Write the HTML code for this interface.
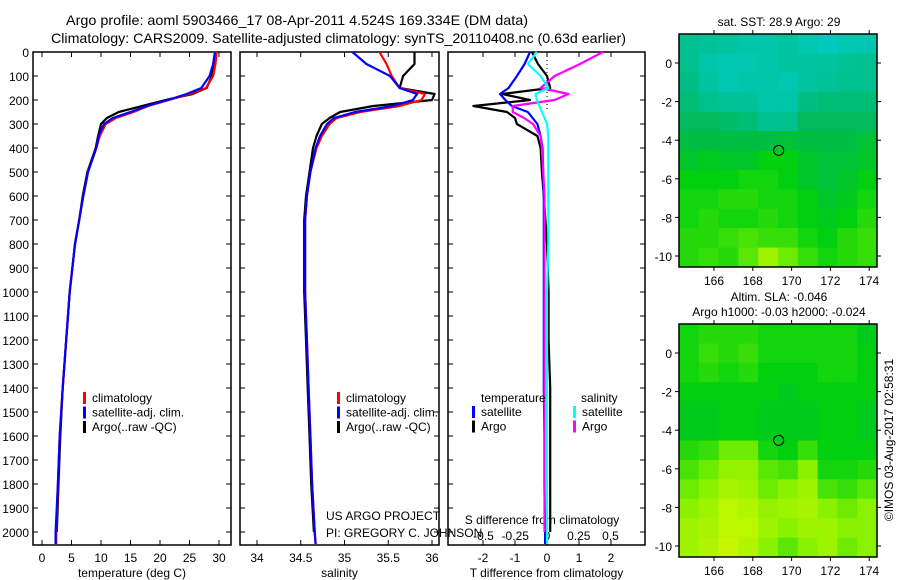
<!DOCTYPE html>
<html><head><meta charset="utf-8"><style>
body{margin:0;background:#fff}
svg{display:block;font-family:"Liberation Sans",sans-serif}
</style></head><body>
<svg id="s" width="900" height="580" viewBox="0 0 900 580">
<text x="66" y="25" font-size="14" textLength="462" lengthAdjust="spacingAndGlyphs">Argo profile: aoml 5903466_17 08-Apr-2011 4.524S 169.334E (DM data)</text>
<text x="51" y="43" font-size="14" textLength="575" lengthAdjust="spacingAndGlyphs">Climatology: CARS2009. Satellite-adjusted climatology: synTS_20110408.nc (0.63d earlier)</text>
<g id="g"></g>
</svg>
<script>
// ---- data ----
const depthT=[0,50,100,150,175,200,225,250,275,300,350,400,500,600,700,800,1000,1200,1400,1600,1800,2000,2050];
const tempClim=[29.6,29.4,29,27.8,25,21.5,18,15.5,12.5,10.8,9.8,9.2,7.8,7,6.3,5.6,4.7,4.1,3.5,3.0,2.7,2.4,2.4];
const tempSat=[29.3,29.0,28.4,27,24.5,21.3,17.8,15,12,10.5,9.6,9.2,7.8,7,6.3,5.6,4.7,4.1,3.5,3.0,2.7,2.3,2.3];
const depthA=[0,50,100,150,175,200,225,250,275,300,350,400,500,600,700,800,1000,1200,1400,1600,1800,2000];
const tempArgo=[29.4,29.2,28.8,27.9,25.5,21,17,13,11,10,9.5,9.1,7.7,6.9,6.3,5.6,4.7,4.1,3.5,3.1,2.8,2.5];
const salClim=[35.4,35.48,35.54,35.63,35.92,35.88,35.63,35.18,34.91,34.83,34.74,34.68,34.61,34.57,34.55,34.55,34.55,34.57,34.59,34.61,34.63,34.66,34.67];
const salSat=[35.09,35.25,35.52,35.63,35.83,35.78,35.55,35.12,34.88,34.8,34.72,34.67,34.61,34.57,34.55,34.55,34.55,34.57,34.59,34.61,34.63,34.66,34.67];
const salArgo=[35.8,35.8,35.67,35.63,36.03,36.0,35.33,34.95,34.83,34.74,34.68,34.64,34.6,34.56,34.54,34.54,34.54,34.56,34.58,34.6,34.62,34.65];
const dTsat=[-0.53,-0.7,-0.94,-1.2,-1.47,-1.3,-1.1,-0.6,-0.45,-0.3,-0.2,-0.14,-0.12,-0.1,-0.1,-0.1,-0.1,-0.1,-0.1,-0.08,-0.08,-0.06,-0.06];
const dTargo=[-0.47,-0.28,0,0.1,-1.4,-0.53,-2.3,-1.25,-1.0,-0.94,-0.3,-0.2,-0.16,-0.1,-0.05,0,0.05,0.05,0.1,0.1,0.1,0.1];
const dSsat=[-0.08,-0.15,-0.05,0.01,-0.09,-0.08,-0.06,-0.04,-0.02,0,0.01,0.01,0.01,0.01,0.01,0.01,0,0,0,0,0,0,0];
const dSargo=[0.44,0.26,0.06,-0.05,0.17,0.06,-0.27,-0.27,-0.18,-0.11,-0.05,-0.04,-0.03,-0.02,-0.02,-0.02,-0.02,-0.02,-0.02,-0.02,-0.02,-0.02];
const depthTicks=[0,100,200,300,400,500,600,700,800,900,1000,1100,1200,1300,1400,1500,1600,1700,1800,1900,2000];
const tempTicks=[0,5,10,15,20,25,30];
const salTicks=[34,34.5,35,35.5,36];
const salTickLabels=['34','34.5','35','35.5','36'];
const dTTicks=[-2,-1,0,1,2];
const dSTicks=[-0.5,-0.25,0,0.25,0.5];
const dSTickLabels=['-0.5','-0.25','0','0.25','0.5'];
const lonTicks=[166,168,170,172,174];
const latTicks=[0,-2,-4,-6,-8,-10];
// map cell values (rows: lat 1.5 -> -10.5 per 1deg; cols: lon 164.3 -> 174.5 per ~1deg)
const sstGrid=[
[0.45,0.44,0.43,0.42,0.42,0.43,0.41,0.39,0.41,0.41],
[0.45,0.42,0.41,0.41,0.42,0.43,0.43,0.43,0.44,0.45],
[0.46,0.43,0.41,0.42,0.42,0.41,0.43,0.44,0.45,0.45],
[0.47,0.45,0.44,0.44,0.42,0.42,0.46,0.47,0.47,0.47],
[0.49,0.49,0.48,0.47,0.45,0.45,0.49,0.49,0.49,0.49],
[0.51,0.51,0.51,0.51,0.51,0.52,0.51,0.51,0.51,0.52],
[0.53,0.54,0.53,0.53,0.55,0.55,0.53,0.52,0.52,0.53],
[0.55,0.55,0.55,0.56,0.56,0.55,0.53,0.52,0.53,0.55],
[0.56,0.56,0.57,0.57,0.56,0.56,0.55,0.53,0.54,0.56],
[0.56,0.57,0.56,0.56,0.57,0.56,0.55,0.54,0.55,0.57],
[0.57,0.57,0.58,0.59,0.58,0.58,0.56,0.55,0.57,0.58],
[0.57,0.58,0.57,0.60,0.65,0.61,0.58,0.56,0.57,0.58]];
const slaGrid=[
[0.56,0.57,0.57,0.57,0.56,0.56,0.56,0.56,0.56,0.54],
[0.56,0.58,0.57,0.58,0.56,0.56,0.56,0.56,0.56,0.55],
[0.56,0.57,0.56,0.57,0.55,0.55,0.55,0.56,0.56,0.55],
[0.55,0.55,0.55,0.55,0.55,0.54,0.55,0.55,0.55,0.55],
[0.54,0.54,0.55,0.55,0.54,0.54,0.54,0.55,0.55,0.54],
[0.54,0.54,0.55,0.55,0.54,0.54,0.54,0.55,0.55,0.54],
[0.57,0.58,0.61,0.61,0.56,0.55,0.58,0.55,0.55,0.55],
[0.59,0.61,0.64,0.64,0.60,0.59,0.63,0.56,0.56,0.57],
[0.61,0.63,0.66,0.65,0.61,0.63,0.65,0.59,0.58,0.60],
[0.63,0.65,0.68,0.67,0.64,0.65,0.66,0.63,0.61,0.63],
[0.65,0.66,0.68,0.68,0.65,0.63,0.65,0.65,0.63,0.63],
[0.65,0.67,0.69,0.67,0.63,0.60,0.63,0.65,0.61,0.63]];
const argoLon=169.334, argoLat=-4.524;

const NS='http://www.w3.org/2000/svg';
const G=document.getElementById('g');
function mk(tag,a,parent){const e=document.createElementNS(NS,tag);for(const k in a)e.setAttribute(k,a[k]);(parent||G).appendChild(e);return e;}
function txt(x,y,s,sz,anchor,parent){const e=mk('text',{x:x,y:y,'font-size':sz||12,'text-anchor':anchor||'start'},parent);e.textContent=s;return e;}

const top0=52, bot0=545;
const yD=d=>top0+d*0.24;
const xT=t=>42+t*5.9;
const xS=s=>257+(s-34)*87.5;
const xdT=v=>547+v*32;
const xdS=v=>547+v*127;

function panel(name,x0,x1,ticksX,fx,labels,xlabel){
  const g=mk('g',{});
  
  
  const r=mk('rect',{x:x0,y:top0,width:x1-x0,height:bot0-top0,fill:'none',stroke:'#000','stroke-width':1.5},g);
  
  
  depthTicks.forEach(d=>{mk('line',{x1:x0,x2:x0+5,y1:yD(d),y2:yD(d),stroke:'#000'},g);mk('line',{x1:x1-5,x2:x1,y1:yD(d),y2:yD(d),stroke:'#000'},g);});
  ticksX.forEach((t,i)=>{const x=fx(t);mk('line',{x1:x,x2:x,y1:top0,y2:top0+5,stroke:'#000'},g);mk('line',{x1:x,x2:x,y1:bot0-5,y2:bot0,stroke:'#000'},g);
    if(labels){const l=txt(x,562,labels[i],12,'middle',g);}});
  if(xlabel){const l=txt((x0+x1)/2,577,xlabel,12,'middle',g);}
  return g;
}
const p1=panel('temperature-panel',33,231,tempTicks,xT,tempTicks.map(String),'temperature (deg C)');
const p2=panel('salinity-panel',240,439,salTicks,xS,salTickLabels,'salinity');
const p3=panel('difference-panel',448,645,dTTicks,xdT,dTTicks.map(String),'T difference from climatology');
depthTicks.forEach(d=>{const l=txt(29,yD(d)+5,String(d),12,'end');
  
  });
dSTicks.forEach((t,i)=>{const l=txt(xdS(t),540,dSTickLabels[i],12,'middle');
  
  });
const sdl=txt(542,524,'S difference from climatology',12,'middle');


const zl=mk('line',{x1:547,x2:547,y1:top0,y2:yD(250),stroke:'#000','stroke-dasharray':'1,3'});



function line(name,depths,vals,fx,color,w){
  const pts=vals.map((v,i)=>fx(v).toFixed(1)+','+yD(depths[i]).toFixed(1)).join(' ');
  const e=mk('polyline',{points:pts,fill:'none',stroke:color,'stroke-width':w||2.2,'stroke-linejoin':'round'});
  
  
}
line('temp-argo',depthA,tempArgo,xT,'#000');
line('temp-climatology',depthT,tempClim,xT,'#f00');
line('temp-satellite',depthT,tempSat,xT,'#00f');
line('sal-argo',depthA,salArgo,xS,'#000');
line('sal-climatology',depthT,salClim,xS,'#f00');
line('sal-satellite',depthT,salSat,xS,'#00f');
line('dT-argo',depthA,dTargo,xdT,'#000');
line('dT-satellite',depthT,dTsat,xdT,'#00f');
line('dS-argo',depthA,dSargo,xdS,'#f0f');
line('dS-satellite',depthT,dSsat,xdS,'#0ff');

function legend(x,y,items,name){
  items.forEach((it,i)=>{const yy=y+i*14.5;
    const m=mk('rect',{x:x,y:yy-10,width:3,height:12,fill:it[1]});
    
    
    const t=txt(x+9,yy,it[0],12);
    
    });
}
legend(83,402,[['climatology','#f00'],['satellite-adj. clim.','#00f'],['Argo(..raw -QC)','#000']],'temp-legend');
legend(337,402,[['climatology','#f00'],['satellite-adj. clim.','#00f'],['Argo(..raw -QC)','#000']],'sal-legend');
const lt=txt(481,402,'temperature',12);
const ls=txt(581,402,'salinity',12);
legend(472,416,[['satellite','#00f'],['Argo','#000']],'dT-legend');
legend(573,416,[['satellite','#0ff'],['Argo','#f0f']],'dS-legend');
const c1=txt(326,520,'US ARGO PROJECT',12);
const c2=txt(326,537,'PI: GREGORY C. JOHNSON',12);

// maps
const stops=[[0.38,[0,204,200]],[0.45,[0,192,144]],[0.5,[0,184,80]],[0.55,[0,208,16]],[0.62,[128,240,0]],[0.7,[208,248,0]]];
function cmap(v){if(v<=stops[0][0])return stops[0][1];for(let i=1;i<stops.length;i++){if(v<=stops[i][0]){const a=stops[i-1],b=stops[i],f=(v-a[0])/(b[0]-a[0]);return a[1].map((c,k)=>Math.round(c+(b[1][k]-c)*f));}}return stops[stops.length-1][1];}
function map(name,x0,y0,y0lat,grid,title){
  const x1=877,y1=y0+233;
  const lonX=l=>714+(l-166)*19.4, latY=l=>y0lat-l*19.3;
  const g=mk('g',{});
  
  
  const rows=grid.length, cols=grid[0].length, cw=(x1-x0)/cols, ch=(y1-y0)/rows;
  grid.forEach((row,r)=>row.forEach((v,c)=>{const col=cmap(v);
    const e=mk('rect',{x:x0+c*cw,y:y0+r*ch,width:cw+0.5,height:ch+0.5,fill:'rgb('+col.join(',')+')'},g);
    
    }));
  const fr=mk('rect',{x:x0,y:y0,width:x1-x0,height:y1-y0,fill:'none',stroke:'#000','stroke-width':1.5},g);
  
  
  lonTicks.forEach(l=>{const x=lonX(l);mk('line',{x1:x,x2:x,y1:y0-4,y2:y0,stroke:'#000'},g);mk('line',{x1:x,x2:x,y1:y1,y2:y1+4,stroke:'#000'},g);
    const t=txt(x,y1+18,String(l),12,'middle',g);});
  latTicks.forEach(l=>{const y=latY(l);mk('line',{x1:x0-4,x2:x0,y1:y,y2:y,stroke:'#000'},g);mk('line',{x1:x1,x2:x1+4,y1:y,y2:y,stroke:'#000'},g);
    const t=txt(x0-7,y+5,String(l),12,'end',g);});
  const ci=mk('circle',{cx:lonX(argoLon),cy:latY(argoLat),r:5,fill:'none',stroke:'#000','stroke-width':1},g);
  
  
  title.forEach((s,i)=>{const t=txt(779,y0-8-(title.length-1-i)*15,s,12,'middle',g);});
}
map('sst-map',679,34,63,sstGrid,['sat. SST: 28.9 Argo: 29']);
map('sla-map',679,324,353,slaGrid,['Altim. SLA: -0.046','Argo h1000: -0.03 h2000: -0.024']);
const cp=txt(0,0,'©IMOS 03-Aug-2017 02:58:31',12,'middle');
cp.setAttribute('transform','translate(893,440) rotate(-90)');


</script>
</body></html>
